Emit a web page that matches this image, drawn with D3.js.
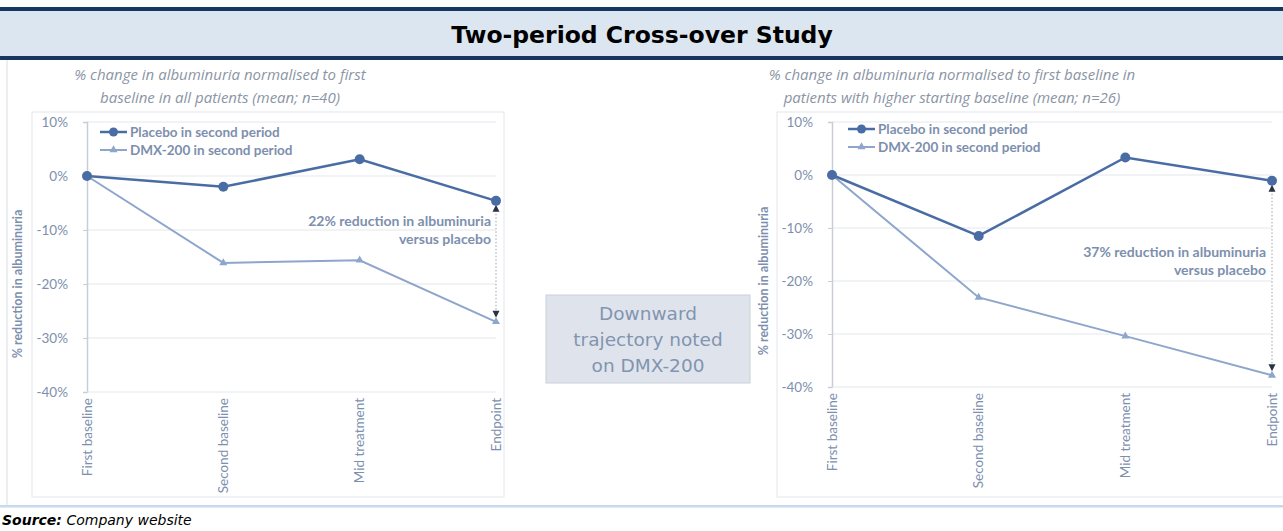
<!DOCTYPE html>
<html><head><meta charset="utf-8">
<script src="https://cdn.jsdelivr.net/npm/d3@7"></script>
<style>body{margin:0;background:#fff}svg{display:block}</style>
</head><body>
<svg id="c" width="1283" height="531"></svg>
<script>
const categories = ["First baseline","Second baseline","Mid treatment","Endpoint"];
const yTicks = [10,0,-10,-20,-30,-40];
const leftPlacebo = [0,-2.0,3.1,-4.6];
const leftDMX = [0,-16.1,-15.6,-27.0];
const rightPlacebo = [0,-11.5,3.3,-1.1];
const rightDMX = [0,-23.1,-30.4,-37.8];
const seriesNames = ["Placebo in second period","DMX-200 in second period"];
const leftSubtitle = ["% change in albuminuria normalised to first","baseline in all patients (mean; n=40)"];
const rightSubtitle = ["% change in albuminuria normalised to first baseline in","patients with higher starting baseline (mean; n=26)"];
const leftNote = ["22% reduction in albuminuria","versus placebo"];
const rightNote = ["37% reduction in albuminuria","versus placebo"];
const boxText = ["Downward","trajectory noted","on DMX-200"];

const svg = d3.select("#c");
const W=1283;
const C1="#4a6ca5", C2="#8ea6cb", TXT="#7d8fae", GRID="#e4e7ec";
const F="Lato, 'Open Sans', sans-serif";

svg.append("rect").attr("x",0).attr("y",7).attr("width",W).attr("height",4).attr("fill","#17375e");
svg.append("rect").attr("x",0).attr("y",11).attr("width",W).attr("height",45).attr("fill","#dce6f1");
svg.append("rect").attr("x",0).attr("y",56).attr("width",W).attr("height",4).attr("fill","#17375e");
svg.append("text").attr("x",642).attr("y",43).attr("text-anchor","middle")
  .attr("font-family","'DejaVu Sans', Verdana, sans-serif").attr("font-weight","bold").attr("font-size",23.5)
  .attr("fill","#000").text("Two-period Cross-over Study");

svg.append("line").attr("x1",7).attr("x2",7).attr("y1",60).attr("y2",506).attr("stroke","#e6e9ee").attr("stroke-width",1.5);
svg.append("rect").attr("x",0).attr("y",505).attr("width",W).attr("height",2.5).attr("fill","#c6d9f0");
const src = svg.append("text").attr("x",2).attr("y",525).attr("font-family","'DejaVu Sans', Verdana, sans-serif")
  .attr("font-size",14).attr("font-style","italic").attr("fill","#000");
src.append("tspan").attr("font-weight","bold").text("Source:");
src.append("tspan").text(" Company website");

function panel(o){
  const g = svg.append("g");
  g.append("rect").attr("x",o.frame[0]).attr("y",o.frame[1]).attr("width",o.frame[2]).attr("height",o.frame[3])
    .attr("fill","none").attr("stroke","#e3e6eb").attr("stroke-width",1);
  o.subtitle.forEach((s,i)=>g.append("text").attr("x",o.subX).attr("y",80+i*23).attr("text-anchor","middle")
    .attr("font-family","'Open Sans', sans-serif").attr("font-style","italic").attr("font-size",15)
    .attr("fill","#8b95a5").text(s));
  const x = d3.scalePoint().domain(categories).range(o.xr);
  const y = d3.scaleLinear().domain([-40,10]).range(o.yr);
  g.selectAll(".gr").data(yTicks.slice(0,5)).join("line")
    .attr("x1",o.xr[0]).attr("x2",o.xr[1]).attr("y1",d=>y(d)).attr("y2",d=>y(d))
    .attr("stroke",GRID).attr("stroke-width",1);
  const ya = g.append("g").attr("transform",`translate(${o.xr[0]},0)`)
    .call(d3.axisLeft(y).tickValues(yTicks).tickFormat(d=>d+"%").tickSize(4).tickPadding(15));
  ya.select(".domain").attr("stroke","#c9ced6").attr("stroke-width",1.5);
  ya.selectAll(".tick line").attr("stroke","#c9ced6");
  ya.selectAll("text").attr("font-family",F).attr("font-size",13.5).attr("fill",TXT);
  g.append("line").attr("x1",o.xr[0]).attr("x2",o.xr[1]).attr("y1",y(-40)).attr("y2",y(-40)).attr("stroke","#e4e7ec");
  categories.forEach(c=>{
    g.append("text").attr("transform",`translate(${x(c)},${y(-40)+6}) rotate(-90)`)
      .attr("text-anchor","end").attr("dy","0.35em").attr("font-family",F).attr("font-size",13.5).attr("fill",TXT).text(c);
  });
  g.append("text").attr("transform",`translate(${o.ytX},${(y(-10)+y(-30))/2}) rotate(-90)`)
    .attr("text-anchor","middle").attr("font-family",F).attr("font-size",12.5).attr("fill",TXT).attr("font-weight","bold")
    .text("% reduction in albuminuria");
  const ex = x("Endpoint");
  g.append("line").attr("x1",ex).attr("x2",ex).attr("y1",y(o.placebo[3])+6).attr("y2",y(o.dmx[3])-6)
    .attr("stroke","#9aa3b0").attr("stroke-dasharray","1.5,2").attr("stroke-width",1);
  g.append("path").attr("d",`M${ex-3.5},${y(o.placebo[3])+11}L${ex+3.5},${y(o.placebo[3])+11}L${ex},${y(o.placebo[3])+4}Z`).attr("fill","#2b3445");
  g.append("path").attr("d",`M${ex-3.5},${y(o.dmx[3])-11}L${ex+3.5},${y(o.dmx[3])-11}L${ex},${y(o.dmx[3])-4}Z`).attr("fill","#2b3445");
  o.note.forEach((s,i)=>g.append("text").attr("x",o.noteX).attr("y",o.noteY+i*17.5).attr("text-anchor","end")
    .attr("font-family",F).attr("font-weight","bold").attr("font-size",14).attr("fill",TXT).text(s));
  const line = d3.line().x((d,i)=>x(categories[i])).y(d=>y(d));
  g.append("path").datum(o.dmx).attr("d",line).attr("fill","none").attr("stroke",C2).attr("stroke-width",2);
  g.append("path").datum(o.placebo).attr("d",line).attr("fill","none").attr("stroke",C1).attr("stroke-width",2.5);
  const tri = d3.symbol().type(d3.symbolTriangle).size(28);
  g.selectAll(".t").data(o.dmx).join("path").attr("d",tri)
    .attr("transform",(d,i)=>`translate(${x(categories[i])},${y(d)})`).attr("fill",C2);
  g.selectAll(".c").data(o.placebo).join("circle").attr("cx",(d,i)=>x(categories[i])).attr("cy",d=>y(d))
    .attr("r",5).attr("fill",C1);
  seriesNames.forEach((s,i)=>{
    const ly = o.legY + i*18, lx=o.legX;
    g.append("line").attr("x1",lx).attr("x2",lx+27).attr("y1",ly).attr("y2",ly).attr("stroke",i?C2:C1).attr("stroke-width",i?2:2.5);
    if(i) g.append("path").attr("d",tri).attr("transform",`translate(${lx+13.5},${ly})`).attr("fill",C2);
    else g.append("circle").attr("cx",lx+13.5).attr("cy",ly).attr("r",4.5).attr("fill",C1);
    g.append("text").attr("x",lx+30).attr("y",ly).attr("dy","0.35em").attr("font-family",F).attr("font-weight","bold")
      .attr("font-size",13.5).attr("fill",TXT).text(s);
  });
}

panel({frame:[32,112,472,385], subtitle:leftSubtitle, subX:220, xr:[87,496], yr:[392,122], ytX:22,
  placebo:leftPlacebo, dmx:leftDMX, note:leftNote, noteX:491, noteY:226, legX:100, legY:132});
panel({frame:[777,112,520,385], subtitle:rightSubtitle, subX:952, xr:[832,1272], yr:[387,122], ytX:768,
  placebo:rightPlacebo, dmx:rightDMX, note:rightNote, noteX:1266, noteY:257, legX:848, legY:129});

svg.append("rect").attr("x",546).attr("y",295).attr("width",204).attr("height",88)
  .attr("fill","#dfe4ec").attr("stroke","#c9d0da").attr("stroke-width",1);
boxText.forEach((s,i)=>svg.append("text").attr("x",648).attr("y",320+i*26).attr("text-anchor","middle")
  .attr("font-family","'DejaVu Sans', sans-serif").attr("font-size",18.5).attr("fill","#8294b0").text(s));
</script>
</body></html>
